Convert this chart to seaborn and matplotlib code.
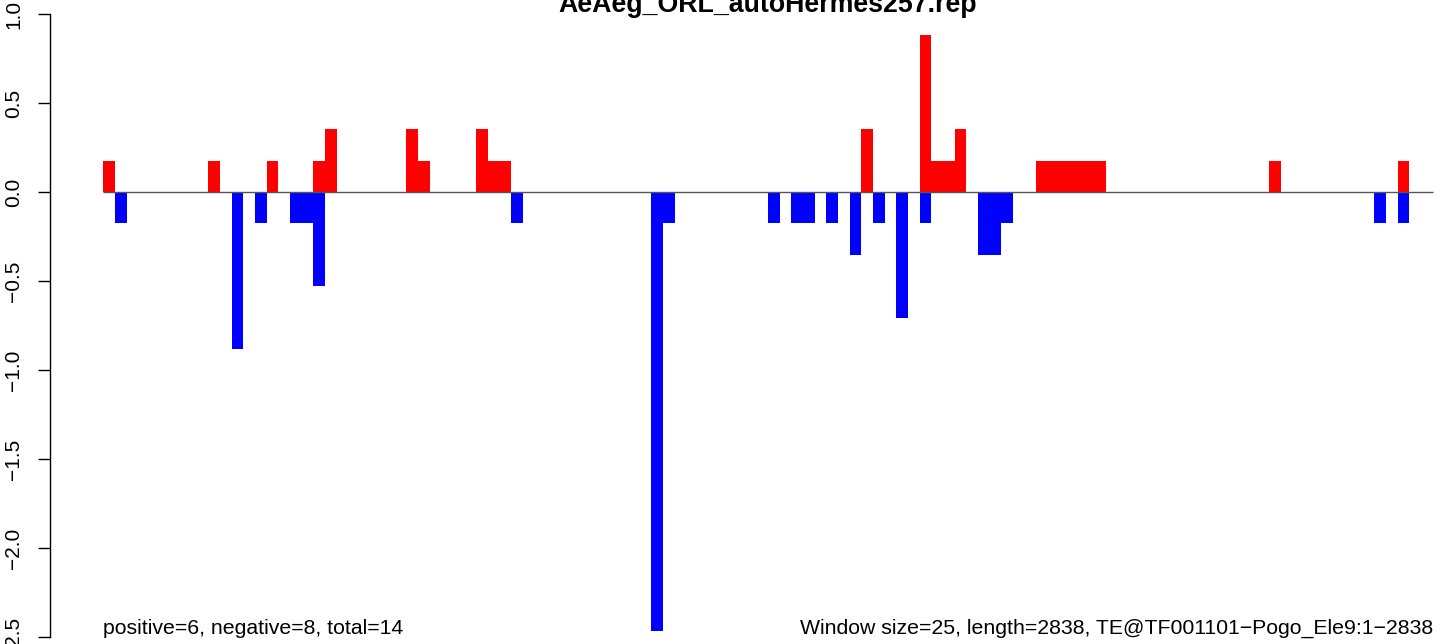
import numpy as np
import pandas as pd
import matplotlib
matplotlib.use("Agg")
import matplotlib.pyplot as plt
import seaborn as sns

# ---- data -------------------------------------------------------------
title = "AeAeg_ORL_autoHermes257.rep"
n_windows = 114
pos_windows = [0, 9, 14, 18, 19, 26, 27, 32, 33, 34, 65, 70, 71, 72, 73,
               80, 81, 82, 83, 84, 85, 100, 111]
pos_values = [0.176, 0.176, 0.176, 0.176, 0.353, 0.353, 0.176, 0.353, 0.176, 0.176,
              0.353, 0.882, 0.176, 0.176, 0.353,
              0.176, 0.176, 0.176, 0.176, 0.176, 0.176, 0.176, 0.176]
neg_windows = [1, 11, 13, 16, 17, 18, 35, 47, 48, 57, 59, 60, 62, 64, 66, 68, 70,
               75, 76, 77, 109, 111]
neg_values = [-0.176, -0.882, -0.176, -0.176, -0.176, -0.529, -0.176, -2.468, -0.176,
              -0.176, -0.176, -0.176, -0.176, -0.353, -0.176, -0.705, -0.176,
              -0.353, -0.353, -0.176, -0.176, -0.176]
y_ticks = [-2.5, -2.0, -1.5, -1.0, -0.5, 0.0, 0.5, 1.0]
y_tick_labels = ["\u22122.5", "\u22122.0", "\u22121.5", "\u22121.0", "\u22120.5", "0.0", "0.5", "1.0"]
left_note = "positive=6, negative=8, total=14"
right_note = "Window size=25, length=2838, TE@TF001101\u2212Pogo_Ele9:1\u22122838"

# ---- table ------------------------------------------------------------
centers = np.arange(n_windows) + 0.5
pos = np.zeros(n_windows)
pos[pos_windows] = pos_values
neg = np.zeros(n_windows)
neg[neg_windows] = neg_values
df = pd.DataFrame({"x": centers, "pos": pos, "neg": neg})

# ---- plot -------------------------------------------------------------
sns.set_theme(style="white")
plt.rcParams["font.family"] = ["Liberation Sans", "DejaVu Sans"]

W, H = 1444, 644
fig = plt.figure(figsize=(W / 100, H / 100), dpi=100)
ax_left, ax_right = 50.1, 1485.9
ax_top, ax_bottom = -10.9, 662.0
ax = fig.add_axes([ax_left / W, 1 - ax_bottom / H,
                   (ax_right - ax_left) / W, (ax_bottom - ax_top) / H])
ax.set_facecolor("white")

sns.barplot(data=df, x="x", y="pos", native_scale=True, width=1.0,
            color="#FF0000", saturation=1, linewidth=0, ax=ax, errorbar=None)
sns.barplot(data=df, x="x", y="neg", native_scale=True, width=1.0,
            color="#0000FF", saturation=1, linewidth=0, ax=ax, errorbar=None)

ax.hlines(0, 0, n_windows, color="#555555", lw=1.0, zorder=5)

ax.set_xlim(-4.56, 118.56)
ax.set_ylim(-2.64, 1.14)
ax.set_xlabel("")
ax.set_ylabel("")
ax.set_xticks([])
for s in ["top", "right", "bottom"]:
    ax.spines[s].set_visible(False)
ax.spines["left"].set_visible(True)
ax.spines["left"].set_color("black")
ax.spines["left"].set_linewidth(1.0)
ax.spines["left"].set_bounds(-2.5, 1.0)
ax.set_yticks(y_ticks)
ax.set_yticklabels(y_tick_labels, rotation=90, va="center", fontsize=15)
ax.tick_params(axis="y", direction="out", length=8.6, width=1.0,
               color="black", pad=11, left=True, labelcolor="black")

fig.text((ax_left + ax_right) / 2 / W, 1 - 12 / H, title, ha="center",
         va="baseline", fontsize=19.3, fontweight="bold", color="black")

ax.text(0, -2.48, left_note, ha="left", va="baseline", fontsize=15.3, color="black")
ax.text(n_windows, -2.48, right_note, ha="right", va="baseline", fontsize=15.3, color="black")

fig.savefig("out.png", dpi=100)
